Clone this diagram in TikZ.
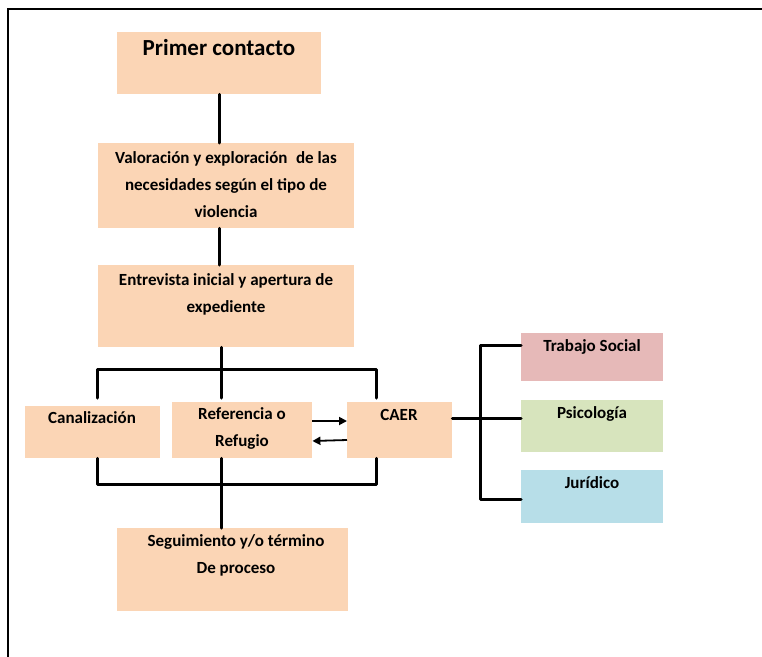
\documentclass[tikz,border=0pt]{standalone}
\usepackage{fontspec}
\setmainfont{Carlito}
\usetikzlibrary{arrows.meta}
\definecolor{peach}{HTML}{FBD5B5}
\definecolor{rosa}{HTML}{E6B9B8}
\definecolor{verde}{HTML}{D7E4BD}
\definecolor{azul}{HTML}{B7DEE8}
\tikzset{
  box/.style={draw=none, anchor=north west, inner sep=0pt},
  txt/.style={font=\fontsize{17}{27}\selectfont\bfseries, align=center, inner sep=0pt, text=black},
  conn/.style={line width=3pt, line cap=round, line join=round},
  arr/.style={line width=1.8pt, -{Triangle[length=8pt,width=8pt]}},
  frame/.style={line width=2pt}
}
\begin{document}
\begin{tikzpicture}[x=1pt,y=-1pt]
\useasboundingbox (0,0) rectangle (762,656);
\draw[frame] (8,660) -- (8,9) -- (766,9);
% boxes
\node[box, fill=peach, minimum width=204pt, minimum height=62pt] (pc) at (117,32) {};
\node[box, fill=peach, minimum width=256pt, minimum height=85pt] (val) at (98,143) {};
\node[box, fill=peach, minimum width=256pt, minimum height=82pt] (ent) at (98,265) {};
\node[box, fill=peach, minimum width=135pt, minimum height=52pt] (can) at (25,406) {};
\node[box, fill=peach, minimum width=140pt, minimum height=56pt] (ref) at (172,402) {};
\node[box, fill=peach, minimum width=105pt, minimum height=56pt] (caer) at (347,402) {};
\node[box, fill=peach, minimum width=231pt, minimum height=83pt] (seg) at (117,528) {};
\node[box, fill=rosa, minimum width=142pt, minimum height=48pt] (ts) at (521,333) {};
\node[box, fill=verde, minimum width=142pt, minimum height=52pt] (psi) at (521,400) {};
\node[box, fill=azul, minimum width=142pt, minimum height=53pt] (jur) at (521,470) {};
% texts
\node[txt, font=\fontsize{23}{26}\selectfont\bfseries] (tpc) at (219,48) {Primer contacto};
\node[txt] (tval) at (226,185) {Valoración y exploración\hspace{0.5em}de las\\necesidades según el tipo de\\violencia};
\node[txt] (tent) at (226,294) {Entrevista inicial y apertura de\\expediente};
\node[txt] (tcan) at (92,418) {Canalización};
\node[txt] (tref) at (242,428.5) {Referencia o\\Refugio};
\node[txt] (tcaer) at (399,415) {CAER};
\node[txt] (tts) at (592,347) {Trabajo Social};
\node[txt] (tpsi) at (592,414) {Psicología};
\node[txt] (tjur) at (592,483) {Jurídico};
\node[txt] (tseg) at (236,555) {Seguimiento y/o término\\De proceso};
% connectors
\draw[conn] (pc.south -| 219,0) -- (val.north -| 219,0);
\draw[conn] (val.south -| 219,0) -- (ent.north -| 219,0);
\coordinate (tl) at (97,369);
\coordinate (tr) at (376,369);
\coordinate (bl) at (97,484);
\coordinate (br) at (376,484);
\draw[conn] (ent.south -| 221,0) -- (221,398);
\draw[conn] (97,398) -- (tl) -- (tr) -- (376,398);
\draw[conn] (can.south -| 97,0) -- (bl) -- (br) -- (caer.south -| 376,0);
\draw[conn] (ref.south -| 221,0) -- (seg.north -| 221,0);
\draw[arr] (ref.east |- 0,421) -- (caer.west |- 0,421);
\draw[arr] (caer.west |- 0,440) -- (ref.east |- 0,441);
\coordinate (bx) at (480,418);
\draw[conn] (caer.east |- bx) -- (bx);
\draw[conn] (ts.west |- 0,345) -- (480,345) -- (480,499) -- (jur.west |- 0,499);
\draw[conn] (bx) -- (psi.west |- bx);
\end{tikzpicture}
\end{document}
